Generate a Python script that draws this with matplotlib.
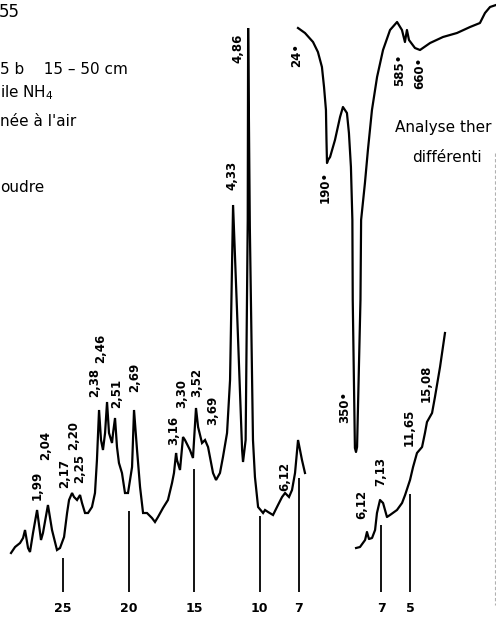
import numpy as np
from matplotlib import pyplot as plt

# X-ray diagram, main scan (theta Co K-alpha, intensity arbitrary units)
theta_main = [28.97, 28.66, 28.28, 28.05, 27.90, 27.67, 27.52, 27.29, 26.98, 26.68,
              26.53, 26.15, 25.84, 25.46, 25.23, 24.92, 24.69, 24.54, 24.31, 24.16,
              23.93, 23.70, 23.55, 23.32, 23.09, 22.79, 22.56, 22.41, 22.25, 22.10,
              21.95, 21.79, 21.64, 21.49, 21.26, 21.18, 21.03, 20.88, 20.73, 20.50,
              20.27, 20.04, 19.73, 19.58, 19.35, 19.12, 18.89, 18.59, 18.21, 17.98,
              17.75, 17.37, 16.99, 16.68, 16.53, 16.37, 16.30, 16.07, 15.84, 15.69,
              15.31, 15.08, 14.85, 14.69, 14.39, 14.16, 13.93, 13.55, 13.32, 13.02,
              12.79, 12.48, 12.25, 12.02, 11.72, 11.33, 11.26, 11.06, 10.90, 10.87,
              10.74, 10.50, 10.35, 10.11, 9.73, 9.58, 9.35, 8.97, 8.59, 8.28,
              8.05, 7.75, 7.52, 7.29, 7.06, 6.76, 6.53]
int_main = [27, 33, 37, 42, 50, 32, 28, 47, 70, 40,
            47, 75, 50, 30, 32, 43, 67, 80, 87, 83,
            80, 85, 77, 67, 67, 73, 87, 120, 170, 140,
            130, 147, 178, 147, 137, 147, 162, 133, 117, 107,
            87, 87, 113, 170, 130, 93, 67, 67, 62, 58,
            63, 72, 80, 97, 107, 127, 120, 110, 143, 140,
            130, 122, 172, 153, 137, 140, 133, 107, 100, 107,
            123, 147, 200, 375, 270, 130, 118, 140, 360, 552,
            353, 140, 103, 73, 67, 70, 68, 65, 75, 83,
            87, 83, 90, 107, 140, 120, 107]

# second scan, small angles
theta_low = [8.72, 8.45, 8.10, 7.97, 7.83, 7.62, 7.41, 7.28, 7.07, 6.86, 6.59, 6.38,
             5.90, 5.55, 5.34, 5.00, 4.79, 4.52, 4.17, 3.97, 3.83, 3.48, 3.28, 2.93, 2.59]
int_low = [32, 33, 40, 48, 41, 42, 50, 67, 80, 77, 63, 65,
           70, 77, 85, 100, 113, 127, 133, 147, 158, 167, 183, 213, 247]

# peak labels (d in Angstrom) and where they sit
labels_main = ['1,99', '2,04', '2,17', '2,20', '2,25', '2,38', '2,46', '2,51', '2,69',
               '3,16', '3,30', '3,52', '3,69', '4,33', '4,86', '6,12']
label_theta_main = [26.98, 26.30, 24.85, 24.16, 23.70, 22.56, 22.10, 20.88, 19.50,
                    16.53, 15.92, 14.77, 13.55, 12.10, 11.64, 8.05]
label_int_main = [95, 135, 106, 144, 112, 198, 232, 187, 203,
                  150, 186, 198, 170, 405, 532, 104]
labels_low = ['6,12', '7,13', '11,65', '15,08']
label_theta_low = [8.31, 7.00, 5.07, 3.90]
label_int_low = [76, 109, 153, 197]

ticks_main = [25, 20, 15, 10, 7]
ticks_low = [7, 5]

# DTA curve (temperature in deg C, deflection arbitrary)
dta_temp = [24, 64, 110, 138, 161, 173, 184, 187, 190, 196, 207, 234, 262, 278, 300,
            311, 322, 330, 332, 344, 350, 355, 371, 374, 392, 406, 425, 449, 477, 510,
            543, 566, 580, 590, 601, 633, 660, 714, 783, 858, 928, 981, 1008, 1035, 1067]
dta_val = [552, 547, 538, 528, 513, 493, 470, 440, 417, 420, 423, 440, 463, 473, 467,
           447, 413, 360, 280, 132, 128, 133, 280, 360, 397, 430, 470, 503, 530, 550,
           558, 550, 538, 550, 540, 532, 530, 537, 543, 547, 553, 557, 567, 573, 575]
dta_labels = ['24•', '190•', '350•', '585•', '660•']
dta_label_temp = [24, 190, 350, 585, 660]
dta_label_val = [525, 393, 173, 510, 507]

# chart recorder temperature scale (not linear)
T_CAL = [-1679, 24, 190, 350, 585, 660, 1067]
P_CAL = [0, 298, 327, 356, 406, 420, 496]

W, H = 496, 622
fig = plt.figure(figsize=(W / 100, H / 100), dpi=100)
fig.patch.set_facecolor('white')


def overlay():
    ax = fig.add_axes([0, 0, 1, 1])
    ax.set_ylim(-42, 580)
    ax.axis('off')
    ax.patch.set_alpha(0)
    return ax


lbl = dict(rotation=90, ha='center', va='center', fontsize=8.5, fontweight='bold')
tk = dict(ha='center', va='center', fontsize=9, fontweight='bold')

ax1 = overlay()
ax1.set_xlim(29.81, -8.05)
ax1.plot(theta_main, int_main, color='black', lw=1.6, solid_joinstyle='miter')
for t, s, y in zip(label_theta_main, labels_main, label_int_main):
    ax1.text(t, y, s, **lbl)
ax1.vlines(ticks_main, -12, [22, 69, 111, 64, 102], color='black', lw=1.3)
for t in ticks_main:
    ax1.text(t, -29, str(t), **tk)

ax2 = overlay()
ax2.set_xlim(33.28, -0.93)
ax2.plot(theta_low, int_low, color='black', lw=1.6)
for t, s, y in zip(label_theta_low, labels_low, label_int_low):
    ax2.text(t, y, s, **lbl)
ax2.vlines(ticks_low, -12, [55, 86], color='black', lw=1.3)
for t in ticks_low:
    ax2.text(t, -29, str(t), **tk)

ax3 = overlay()
ax3.set_xscale('function', functions=(lambda t: np.interp(t, T_CAL, P_CAL),
                                      lambda p: np.interp(p, P_CAL, T_CAL)))
ax3.set_xlim(T_CAL[0], T_CAL[-1])
ax3.plot(dta_temp, dta_val, color='black', lw=1.6)
dx = [-1, -2, -11, -6, 0]
for t, s, y, d in zip(dta_label_temp, dta_labels, dta_label_val, dx):
    ax3.annotate(s, (t, y), xytext=(d * 0.72, 0), textcoords='offset points',
                 rotation=90, ha='center', va='center', fontsize=8.5, fontweight='bold')

# legend text (the scan is cut at the page edges)
fig.text(20 / W, 1 - 12 / H, '55', ha='right', va='center', fontsize=12)
fig.text(0, 1 - 69 / H, '5 b    15 – 50 cm', ha='left', va='center', fontsize=11)
fig.text(0, 1 - 93 / H, 'ile NH$_4$', ha='left', va='center', fontsize=11)
fig.text(0, 1 - 122 / H, 'née à l\'air', ha='left', va='center', fontsize=11)
fig.text(0, 1 - 187 / H, 'oudre', ha='left', va='center', fontsize=11)
fig.text(395 / W, 1 - 128 / H, 'Analyse ther', ha='left', va='center', fontsize=11)
fig.text(412 / W, 1 - 158 / H, 'différenti', ha='left', va='center', fontsize=11)

fig.add_artist(plt.Line2D([495 / W, 495 / W], [1 - 153 / H, 1 - 605 / H],
                          color='#b0b0b0', lw=0.8, ls=(0, (3, 2))))

fig.savefig('out.png', dpi=100)
